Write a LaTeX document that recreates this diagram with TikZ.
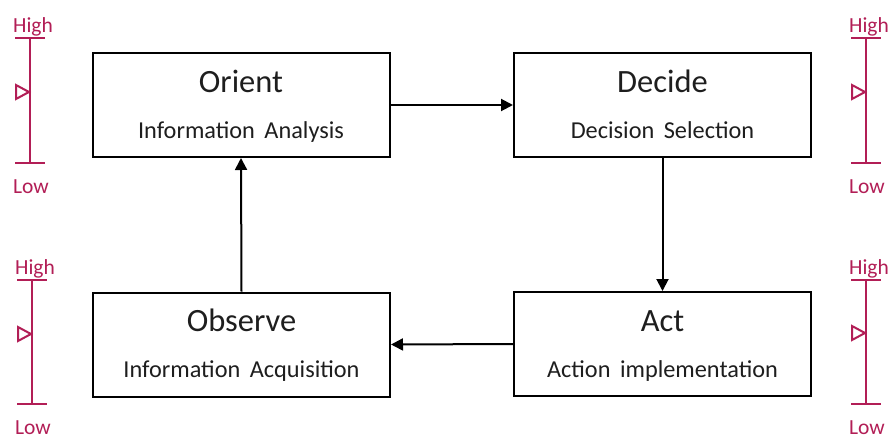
\documentclass[tikz,border=0pt]{standalone}
\usepackage{fontspec}
\setmainfont{Carlito}
\usetikzlibrary{arrows.meta,calc}
\definecolor{scalecol}{RGB}{178,30,86}
\definecolor{inkgray}{RGB}{30,30,30}
\begin{document}
\begin{tikzpicture}[x=1pt,y=-1pt,
  stagebox/.style={draw=black,line width=2pt,fill=white,inner sep=0pt,minimum width=297pt,minimum height=104pt},
  title/.style={anchor=base,font=\fontsize{32.5}{32.5}\selectfont,text=inkgray,inner sep=0pt},
  subtitle/.style={anchor=base,font=\fontsize{24.3}{24.3}\selectfont,text=inkgray,inner sep=0pt},
  flow/.style={line width=2pt,-{Triangle[length=12pt,width=12pt]}},
  scaleline/.style={draw=scalecol,line width=2pt},
  scalemark/.style={draw=scalecol,line width=2pt,fill=white,line join=miter},
  scaletext/.style={text=scalecol,font=\fontsize{21.5}{21.5}\selectfont,inner sep=0pt,anchor=base}]
\useasboundingbox (0,0) rectangle (892,439);

% the four stages
\node[stagebox] (orient) at (241,105) {};
\node[stagebox] (decide) at (662.5,105) {};
\node[stagebox] (observe) at (241.5,344.5) {};
\node[stagebox] (act) at (662.5,344) {};

\node[title] (orientT) at ($(orient.north)+(0,40)$) {Orient};
\node[subtitle] (orientS) at ($(orient.north)+(0,86)$) {Information\, Analysis};
\node[title] (decideT) at ($(decide.north)+(0,40)$) {Decide};
\node[subtitle] (decideS) at ($(decide.north)+(0,86)$) {Decision\, Selection};
\node[title] (observeT) at ($(observe.north)+(0,40)$) {Observe};
\node[subtitle] (observeS) at ($(observe.north)+(0,86)$) {Information\, Acquisition};
\node[title] (actT) at ($(act.north)+(0,40)$) {Act};
\node[subtitle] (actS) at ($(act.north)+(0,86)$) {Action\, implementation};

% the loop
\draw[flow] (orient.east) -- (decide.west);
\draw[flow] (decide.south) -- (act.north);
\draw[flow] (act.west) -- (observe.east);
\draw[flow] (observe.north) -- (orient.south);

% level scales beside the stages
\foreach \nm/\x/\top/\bot/\mid in {sa/30/38/163/92, sb/32/280/404/334, sc/866/38/163/92, sd/866/280/404/333}{
  \coordinate (\nm top) at (\x,\top);
  \coordinate (\nm bot) at (\x,\bot);
  \draw[scaleline] (\nm top) -- (\nm bot);
  \draw[scaleline] ($(\nm top)+(-15,0)$) -- ($(\nm top)+(15,0)$);
  \draw[scaleline] ($(\nm bot)+(-15,0)$) -- ($(\nm bot)+(15,0)$);
  \draw[scalemark] (\x-1,\mid) -- (\x-14,\mid-7) -- (\x-14,\mid+7) -- cycle;
  \node[scaletext] (\nm high) at ($(\nm top)+(3,-6)$) {High};
  \node[scaletext] (\nm low) at ($(\nm bot)+(1,30)$) {Low};
}
\end{tikzpicture}
\end{document}
